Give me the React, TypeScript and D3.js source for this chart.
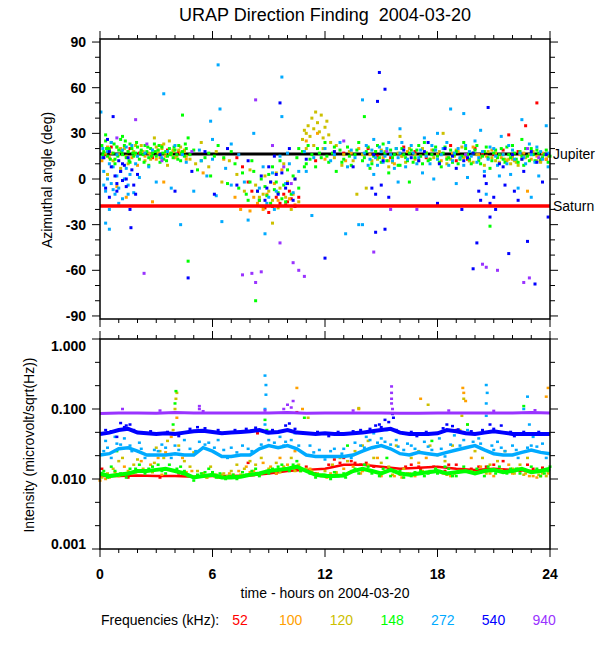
import React from 'react';
import * as d3 from 'd3';

// frequencies and their colours, in drawing order
const frequencies = ['52', '100', '120', '148', '272', '540', '940'];
const colors = ['#ff0000', '#ffa000', '#ccc000', '#00ff00', '#00aaff', '#0000ff', '#9933ff'];

// planet directions (deg)
const jupiterAngle = 16.4;
const saturnAngle = -17.7;

// azimuth readings [hour, deg]
const az52 = [[0.3,16],[1.6,20],[2.8,14],[3.6,19],[4.2,18],[7.3,14],[7.6,8],[7.9,-2],[8.1,-8],[8.5,-14],[9.2,-18],[9.4,-12],[9.6,-16],[9.8,-10],[10.0,-15],[10.2,-13],[10.4,-18],[10.1,-8],[9.0,-22],[11.5,12],[13.0,17],[14.3,20],[15.5,14],[16.8,18],[18.7,22],[19.6,13],[20.4,17],[21.5,19],[21.8,29],[22.7,35],[23.3,50],[22.0,15],[23.5,12],
  [14.8,15],[16.2,21],[17.4,14],[19.0,12],[20.0,20],[21.0,16],[22.3,18],[23.8,13],[8.8,-19],[9.9,-17],[10.6,-12],[0.6,21],[2.1,17]];
const az100 = [[0.1,12],[0.6,17],[1.1,20],[1.7,14],[2.2,18],[2.7,16],[3.1,19],[3.5,15],[3.9,18],[4.3,17],[4.6,13],[2.0,9],[0.9,-5],[1.4,-12],[3.4,-2],[5.5,4],[6.6,13],[7.2,-12],[7.5,-20],[8.0,-21],[8.4,-16],[8.9,-10],[9.3,-3],[9.7,6],[10.1,-13],[10.4,-17],[11.0,25],[11.6,30],[12.5,18],[13.1,12],[13.8,20],[14.4,16],[15.1,14],[15.7,10],[16.4,18],[17.1,15],[17.7,19],[18.2,12],[18.8,17],[19.4,14],[19.9,21],[20.6,15],[21.1,17],[21.7,12],[22.4,16],[23.0,13],[23.6,17],[22.8,-8],[2.8,-15],[0.4,21],[1.9,16],[3.3,22],[4.0,14],
  [0.5,14],[1.5,18],[2.4,15],[3.0,13],[3.7,17],[4.5,19],[14.7,18],[15.4,12],[16.1,15],[16.8,13],[17.4,17],[18.0,16],[18.5,14],[19.1,18],[19.7,12],[20.2,16],[20.9,19],[21.4,14],[22.0,13],[22.6,17],[23.3,15],[23.8,13],[8.2,-12],[8.7,-20],[9.5,-14],[10.3,-10],[12.0,13],[13.4,17]];
const az120 = [[0.2,14],[0.5,19],[0.7,12],[1.0,16],[1.3,20],[1.5,10],[1.8,18],[2.0,15],[2.2,22],[2.4,12],[2.6,17],[2.8,19],[3.0,21],[3.2,14],[3.4,23],[3.5,17],[3.7,25],[3.9,19],[4.1,15],[4.3,21],[4.5,18],[4.8,13],[2.9,27],[3.6,9],[1.1,7],[0.4,3],[5.1,10],[5.4,24],[5.8,8],[6.2,18],[6.5,-2],[6.9,12],[7.3,3],[7.7,-8],[8.0,6],[8.3,-4],[8.5,-12],[8.6,-18],[8.8,2],[9.0,-8],[9.2,-14],[9.2,-29],[9.4,4],[9.6,-6],[9.8,10],[10.0,-2],[10.2,-20],[9.5,-19],[10.8,26],[11.0,30],[11.1,35],[11.2,28],[11.3,40],[11.4,33],[11.5,44],[11.6,37],[11.7,31],[11.8,42],[11.9,27],[12.0,34],[12.1,38],[12.2,29],[11.4,22],[11.9,20],[12.3,24],[12.5,14],[12.9,9],[13.3,18],[13.7,-10],[14.2,-6],[14.5,12],[15.0,19],[15.4,8],[15.9,17],[16.3,11],[16.8,16],[17.2,20],[17.6,13],[18.1,18],[18.5,10],[18.9,15],[19.3,21],[19.7,12],[20.1,16],[20.5,9],[20.9,14],[21.3,11],[21.6,13],[21.9,10],[22.1,12],[22.3,9],[22.7,14],[23.1,18],[23.5,11],[23.9,15],[18.3,30],[16.0,28],
  [0.3,17],[0.9,21],[1.4,15],[1.9,22],[2.3,18],[2.7,13],[3.1,17],[3.3,20],[3.8,16],[4.2,19],[4.6,15],[14.0,16],[14.8,13],[15.2,18],[15.6,11],[16.1,15],[16.5,20],[17.0,12],[17.4,17],[17.8,14],[18.2,16],[18.7,13],[19.0,19],[19.5,15],[19.9,11],[20.3,14],[20.7,18],[21.1,12],[21.5,16],[21.8,13],[22.0,15],[22.2,11],[22.5,13],[22.9,16],[23.3,12],[23.7,16],[8.7,-10],[9.1,-2],[9.9,-12],[10.4,0],[10.6,-15],[12.6,22],[13.0,16],[13.5,12],[11.0,20],[10.9,32]];
const az148 = [[0.1,22],[0.2,18],[0.3,25],[0.4,15],[0.5,20],[0.6,24],[0.7,17],[0.8,13],[0.9,21],[1.0,19],[1.1,26],[1.2,16],[1.3,22],[1.4,14],[1.5,18],[1.6,23],[1.7,20],[1.8,15],[1.9,17],[2.0,21],[2.1,13],[2.2,19],[2.3,16],[2.4,22],[2.5,18],[2.6,14],[2.7,20],[2.8,17],[2.9,23],[3.0,15],[3.1,19],[3.2,16],[3.3,21],[3.4,13],[3.5,18],[3.6,15],[3.7,20],[3.8,17],[3.9,14],[4.0,19],[4.1,16],[4.2,22],[4.3,12],[4.4,18],[4.5,15],[4.6,20],[4.7,27],[0.3,29],[1.2,28],[2.6,9],[3.2,11],[0.8,10],[1.6,11],[5.2,6],[5.6,14],[5.9,2],[6.3,22],[6.8,-3],[7.2,10],[7.4,-6],[7.6,4],[7.8,-10],[8.0,-2],[7.9,-14],[8.1,12],[8.2,5],[8.4,-8],[8.5,-14],[8.6,0],[8.8,-5],[8.9,-11],[9.0,3],[9.1,-16],[9.2,8],[9.4,-2],[9.5,-9],[9.6,12],[9.8,-4],[9.9,-15],[10.0,6],[10.2,-10],[10.3,2],[10.5,14],[10.6,-6],[10.8,18],[11.0,10],[11.1,22],[11.3,16],[11.5,8],[11.6,20],[11.8,14],[12.0,24],[12.2,11],[12.4,17],[12.6,5],[12.8,19],[13.0,13],[13.2,21],[13.4,9],[13.6,16],[13.8,24],[14.0,12],[14.2,18],[14.4,7],[14.6,15],[14.8,22],[15.0,11],[15.2,17],[15.4,4],[15.6,14],[15.8,20],[16.0,9],[16.2,16],[16.4,12],[16.6,19],[16.8,14],[17.0,22],[17.2,10],[17.4,17],[17.6,13],[17.8,19],[18.0,15],[18.2,8],[18.4,21],[18.6,14],[18.8,11],[19.0,18],[19.2,13],[19.4,24],[19.6,16],[19.8,10],[20.0,19],[20.2,12],[20.4,15],[20.6,21],[20.8,7],[21.0,17],[21.2,14],[21.4,20],[21.6,11],[21.8,16],[22.0,22],[22.2,13],[22.4,18],[22.6,9],[22.8,15],[23.0,20],[23.2,12],[23.4,17],[23.6,14],[23.8,19],[24.0,15],[22.5,26],[16.5,-2],[20.8,-31],[4.7,-54],[8.3,-80],[14.1,41],[4.4,42],
  [0.15,16],[0.35,20],[0.55,13],[0.75,23],[0.95,15],[1.15,18],[1.35,25],[1.55,12],[1.75,17],[1.95,24],[2.15,17],[2.35,11],[2.55,21],[2.75,15],[2.95,18],[3.15,22],[3.35,17],[3.55,12],[3.75,16],[3.95,21],[4.15,13],[4.35,17],[4.55,23],[4.8,16],[5.0,19],[5.4,12],[5.8,17],[6.1,15],[6.6,14],[7.0,18],[14.1,14],[14.3,21],[14.5,10],[14.7,18],[14.9,14],[15.1,23],[15.3,12],[15.5,19],[15.7,16],[15.9,9],[16.1,20],[16.3,14],[16.5,17],[16.7,11],[16.9,19],[17.1,15],[17.3,24],[17.5,12],[17.7,16],[17.9,21],[18.1,11],[18.3,17],[18.5,13],[18.7,19],[18.9,16],[19.1,10],[19.3,15],[19.5,20],[19.7,13],[19.9,17],[20.1,22],[20.3,10],[20.5,18],[20.7,14],[20.9,12],[21.1,19],[21.3,16],[21.5,13],[21.7,21],[21.9,14],[22.1,17],[22.3,11],[22.5,15],[22.7,20],[22.9,12],[23.1,16],[23.3,19],[23.5,13],[23.7,16],[23.9,11],[10.6,20],[10.9,8],[11.2,13],[11.7,17],[12.1,15],[12.5,21],[12.9,11],[13.3,15],[13.7,19],[8.7,-18],[9.3,-7],[9.7,-13]];
const az272 = [[0.05,44],[0.2,5],[0.3,-8],[0.4,0],[0.5,10],[0.6,-3],[0.7,8],[0.8,-10],[0.9,2],[1.0,-6],[1.1,5],[1.2,-13],[1.3,0],[1.4,7],[1.5,-4],[1.6,3],[1.8,-9],[1.9,10],[2.1,1],[0.3,-29],[0.5,-33],[0.5,-20],[0.15,20],[0.6,24],[1.2,19],[1.7,22],[2.4,17],[3.4,56],[2.6,8],[3.0,-2],[3.3,14],[3.8,-6],[4.3,-30],[4.0,22],[4.6,11],[5.0,-8],[5.3,19],[5.7,2],[6.0,13],[6.3,75],[6.4,46],[5.9,38],[6.5,-28],[6.2,-11],[6.7,7],[7.0,-4],[7.4,16],[7.9,-27],[8.2,30],[8.5,-6],[8.8,-36],[8.7,8],[9.0,-12],[9.2,4],[9.4,-8],[9.6,15],[9.7,67],[9.7,41],[9.9,-3],[10.1,10],[10.3,-9],[10.6,5],[11.3,-24],[10.9,18],[11.4,14],[12.0,20],[12.5,16],[13.1,-36],[13.4,19],[13.8,-30],[14.0,-30],[14.0,52],[14.2,22],[14.4,13],[14.6,26],[14.8,9],[15.0,18],[15.2,15],[15.4,24],[15.6,12],[15.8,20],[16.0,17],[16.3,8],[16.6,22],[17.0,14],[17.3,27],[17.6,10],[17.9,19],[18.2,16],[18.5,24],[18.7,46],[18.8,12],[19.1,20],[19.4,43],[19.4,9],[19.7,18],[20.0,25],[20.2,14],[20.5,5],[20.8,21],[21.1,15],[21.4,28],[21.7,10],[22.0,19],[22.3,-6],[22.5,39],[22.6,14],[22.9,23],[23.2,11],[23.5,18],[23.8,35],[23.9,8],[17.8,0],[19.0,-3],[20.6,-10],[21.3,2],[23.0,-12],[16.0,33],[18.0,30],[20.3,32],
  [14.1,17],[14.3,9],[14.5,19],[14.7,14],[14.9,21],[15.1,11],[15.3,20],[15.5,16],[15.7,7],[15.9,14],[16.1,24],[16.4,13],[16.7,17],[16.9,10],[17.1,19],[17.4,15],[17.7,22],[18.0,13],[18.3,20],[18.6,9],[18.9,17],[19.2,14],[19.5,22],[19.8,15],[20.1,11],[20.4,18],[20.7,13],[21.0,20],[21.2,9],[21.5,16],[21.8,22],[22.1,13],[22.4,17],[22.7,10],[23.0,16],[23.3,21],[23.6,13],[23.9,17],[14.6,3],[15.9,-2],[17.2,4],[19.6,1],[21.9,3],[23.4,2],[12.3,12],[12.8,24],[13.2,8],[13.6,14],[11.0,5],[10.0,17],[8.9,-16],[9.3,-20],[0.1,14],[0.4,18],[0.9,16],[1.4,21],[2.0,15],[2.8,19],[3.6,18],[4.4,16],[1.0,-16],[0.7,-7],[1.5,-10],[0.2,-4],[5.4,12],[6.0,26],[7.0,23],[7.7,-2]];
const az540 = [[0.7,41],[0.4,26],[0.6,8],[0.8,2],[0.9,-3],[1.0,12],[1.1,5],[1.2,-1],[1.3,9],[1.4,0],[1.5,14],[1.6,-20],[1.65,-32],[1.7,6],[1.8,-4],[2.0,3],[0.2,14],[0.5,18],[3.2,16],[4.0,-8],[4.7,-65],[4.9,5],[5.6,18],[6.1,-10],[6.8,20],[7.3,-4],[7.9,12],[8.4,-8],[8.6,2],[8.8,-14],[9.0,8],[9.1,-2],[9.3,15],[9.5,-10],[9.6,50],[9.7,4],[9.9,-6],[10.1,20],[10.4,0],[11.0,13],[12.0,-52],[12.5,18],[13.5,8],[14.5,-6],[14.7,-35],[14.7,-10],[14.8,51],[14.9,70],[15.0,-4],[15.2,59],[15.2,-33],[15.4,-12],[16.2,19],[17.0,12],[18.0,-16],[18.4,20],[19.0,7],[19.6,14],[19.9,-59],[20.1,-42],[20.2,-8],[20.5,2],[20.7,47],[20.8,-16],[20.8,-25],[21.0,-12],[21.3,10],[21.6,-4],[21.8,-49],[22.0,16],[22.3,-14],[22.6,5],[22.8,-41],[23.0,18],[23.2,-69],[23.6,-2],[23.9,-25],[17.5,24],[19.3,-20],
  [0.3,-6],[0.5,-12],[0.9,-8],[1.2,10],[1.4,-5],[1.9,-10],[15.1,12],[16.6,14],[17.3,18],[18.1,10],[18.8,15],[19.4,12],[19.9,17],[20.3,-14],[20.6,-3],[21.1,-20],[21.5,8],[22.1,-8],[22.5,13],[23.3,11],[23.8,16],[14.6,16],[8.9,-6],[9.4,3],[10.3,-14],[10.0,-3]];
const az940 = [[1.9,39],[0.9,27],[2.5,23],[3.3,12],[2.35,-62],[4.9,18],[7.6,-63],[8.1,-62],[8.3,-68],[8.3,52],[8.6,-61],[9.2,22],[9.6,-42],[10.3,-55],[10.6,-60],[10.9,-64],[9.8,8],[10.2,-3],[14.6,-48],[15.5,-20],[15.3,18],[16.9,-20],[20.4,-56],[20.6,-58],[21.2,-60],[22.6,-68],[22.9,-65],[22.8,20],[23.4,14],[19.5,16],[13.0,25]];

// intensity baselines [hour, microvolt/sqrt(Hz)]
const base52 = [[0,0.011],[1,0.011],[2,0.0112],[3,0.011],[4,0.011],[5,0.0108],[6,0.011],[7,0.011],[8,0.0112],[9,0.012],[10,0.013],[11,0.0135],[12,0.014],[13,0.016],[14,0.016],[15,0.015],[16,0.014],[17,0.0145],[18,0.015],[19,0.014],[20,0.0135],[21,0.014],[22,0.0135],[23,0.013],[24,0.0135]];
const base148 = [[0,0.012],[0.5,0.011],[1,0.0115],[1.5,0.012],[2,0.013],[2.5,0.013],[3,0.0135],[3.5,0.014],[4,0.013],[4.5,0.012],[5,0.0105],[5.5,0.011],[6,0.0115],[6.5,0.0105],[7,0.0105],[7.5,0.0108],[8,0.0115],[8.5,0.012],[9,0.013],[9.5,0.0135],[10,0.014],[10.5,0.015],[11,0.013],[11.5,0.0115],[12,0.011],[12.5,0.011],[13,0.0112],[13.5,0.013],[14,0.014],[14.5,0.013],[15,0.012],[15.5,0.0135],[16,0.012],[16.5,0.0115],[17,0.012],[17.5,0.0125],[18,0.013],[18.5,0.012],[19,0.0125],[19.5,0.013],[20,0.012],[20.5,0.013],[21,0.0135],[21.5,0.0125],[22,0.013],[22.5,0.014],[23,0.0125],[23.5,0.013],[24,0.014]];
const base272 = [[0,0.022],[0.5,0.023],[1,0.027],[1.5,0.028],[2,0.025],[2.5,0.022],[3,0.022],[3.5,0.022],[4,0.023],[4.5,0.022],[5,0.022],[5.5,0.028],[6,0.025],[6.5,0.021],[7,0.021],[7.5,0.022],[8,0.022],[8.5,0.027],[9,0.03],[9.5,0.028],[10,0.03],[10.5,0.027],[11,0.022],[11.5,0.021],[12,0.021],[12.5,0.021],[13,0.021],[13.5,0.022],[14,0.025],[14.5,0.028],[15,0.03],[15.5,0.027],[16,0.023],[16.5,0.022],[17,0.024],[17.5,0.023],[18,0.022],[18.5,0.024],[19,0.026],[19.5,0.028],[20,0.03],[20.5,0.026],[21,0.023],[21.5,0.022],[22,0.022],[22.5,0.024],[23,0.026],[23.5,0.024],[24,0.023]];
const base540 = [[0,0.044],[0.5,0.046],[1,0.05],[1.5,0.052],[2,0.046],[2.5,0.045],[3,0.044],[3.5,0.045],[4,0.044],[4.5,0.046],[5,0.048],[5.5,0.049],[6,0.047],[6.5,0.045],[7,0.046],[7.5,0.047],[8,0.048],[8.5,0.05],[9,0.046],[9.5,0.047],[10,0.05],[10.5,0.046],[11,0.045],[11.5,0.044],[12,0.045],[12.5,0.044],[13,0.044],[13.5,0.045],[14,0.046],[14.5,0.048],[15,0.05],[15.5,0.052],[16,0.046],[16.5,0.044],[17,0.044],[17.5,0.044],[18,0.045],[18.5,0.05],[19,0.048],[19.5,0.045],[20,0.044],[20.5,0.046],[21,0.048],[21.5,0.046],[22,0.044],[22.5,0.044],[23,0.044],[23.5,0.044],[24,0.044]];
const base940 = [[0,0.086],[1,0.088],[2,0.088],[3,0.087],[4,0.089],[5,0.088],[6,0.088],[7,0.088],[8,0.088],[9,0.088],[10,0.089],[11,0.087],[12,0.088],[13,0.088],[14,0.088],[15,0.088],[16,0.087],[17,0.087],[18,0.088],[19,0.088],[20,0.088],[21,0.088],[22,0.088],[23,0.089],[24,0.088]];

// intensity scatter [hour, microvolt/sqrt(Hz)]
const int52 = [[0.1,0.014],[2.3,0.013],[4.2,0.012],[7.9,0.017],[9.4,0.012],[10.5,0.09],[11.5,0.012],[12.2,0.016],[12.8,0.017],[13.4,0.018],[13.9,0.016],[14.6,0.015],[15.4,0.014],[16.3,0.015],[17.0,0.015],[17.8,0.015],[18.4,0.013],[19.0,0.016],[19.8,0.014],[20.6,0.015],[21.5,0.018],[22.4,0.013],[23.1,0.014],[15.0,0.012],[17.1,0.014],[8.4,0.045],[19.0,0.05],
  [1.5,0.0105],[3.2,0.0105],[5.5,0.0112],[6.5,0.0105],[10.5,0.014],[11.0,0.015],[12.5,0.019],[13.0,0.02],[13.6,0.017],[14.2,0.017],[16.6,0.016],[18.6,0.016],[20.2,0.015],[21.0,0.016],[22.8,0.016],[23.6,0.0145]];
const int100 = [[0.0,0.0095],[0.3,0.01],[0.8,0.0125],[1.3,0.015],[1.7,0.012],[2.2,0.018],[2.7,0.016],[3.1,0.02],[3.5,0.024],[3.8,0.04],[4.1,0.075],[4.4,0.02],[4.9,0.013],[5.3,0.011],[5.7,0.0105],[6.1,0.011],[6.5,0.0115],[6.9,0.012],[7.4,0.013],[7.8,0.015],[8.2,0.013],[8.7,0.017],[9.1,0.015],[9.6,0.02],[10.0,0.016],[10.4,0.025],[10.5,0.2],[10.8,0.1],[11.2,0.014],[11.6,0.0115],[12.1,0.0105],[12.6,0.012],[13.0,0.014],[13.5,0.015],[13.9,0.012],[14.3,0.016],[14.8,0.02],[15.2,0.013],[15.7,0.011],[16.1,0.0105],[16.5,0.012],[17.0,0.017],[17.1,0.14],[17.4,0.02],[17.9,0.014],[18.3,0.012],[18.7,0.011],[19.1,0.013],[19.35,0.2],[19.4,0.17],[19.5,0.13],[19.8,0.02],[20.3,0.015],[20.8,0.012],[21.3,0.013],[21.8,0.016],[22.3,0.014],[22.7,0.012],[23.1,0.011],[23.5,0.011],[23.9,0.012],[23.9,0.2],[23.8,0.15],[13.8,0.1],
  [0.5,0.0105],[1.0,0.011],[1.9,0.0125],[2.5,0.013],[3.3,0.0115],[4.6,0.0125],[5.5,0.012],[6.3,0.0105],[7.1,0.0115],[8.0,0.0125],[9.4,0.012],[10.7,0.013],[11.8,0.011],[12.3,0.012],[13.3,0.0125],[14.0,0.013],[15.0,0.011],[16.0,0.0115],[16.8,0.011],[17.6,0.013],[18.5,0.0115],[20.0,0.0125],[21.0,0.011],[22.0,0.012],[22.9,0.011],[23.3,0.0105]];
const int120 = [[0.1,0.0105],[0.4,0.012],[0.7,0.014],[1.0,0.018],[1.2,0.02],[1.5,0.013],[1.8,0.016],[2.0,0.019],[2.3,0.014],[2.6,0.022],[2.9,0.017],[3.2,0.025],[3.4,0.02],[3.6,0.035],[3.9,0.05],[4.0,0.1],[4.05,0.14],[4.1,0.17],[4.2,0.03],[4.5,0.018],[4.8,0.015],[5.2,0.013],[5.5,0.012],[5.9,0.015],[6.2,0.0115],[6.6,0.012],[7.0,0.013],[7.3,0.016],[7.7,0.014],[8.0,0.018],[8.3,0.016],[8.6,0.02],[9.0,0.014],[9.4,0.017],[9.8,0.015],[10.2,0.02],[10.6,0.016],[11.0,0.014],[11.3,0.013],[11.6,0.012],[12.0,0.013],[12.4,0.016],[12.8,0.02],[13.2,0.018],[13.6,0.025],[14.0,0.03],[14.3,0.035],[14.6,0.02],[15.0,0.017],[15.4,0.015],[15.8,0.03],[16.2,0.014],[16.6,0.02],[17.0,0.025],[17.3,0.045],[17.5,0.115],[17.6,0.03],[18.0,0.022],[18.4,0.018],[18.8,0.03],[19.2,0.05],[19.3,0.08],[19.4,0.14],[19.6,0.06],[20.0,0.025],[20.4,0.02],[20.8,0.016],[21.2,0.018],[21.6,0.025],[22.0,0.014],[22.4,0.016],[22.8,0.02],[23.2,0.013],[23.6,0.012],[23.9,0.013],[5.0,0.024],[3.0,0.028],[10.0,0.05],[11.1,0.075],[13.8,0.103],
  [0.6,0.011],[1.3,0.012],[2.0,0.013],[2.8,0.0125],[3.5,0.014],[4.4,0.012],[5.7,0.0105],[6.4,0.0105],[6.8,0.011],[7.5,0.0115],[8.1,0.012],[8.9,0.013],[9.6,0.0125],[10.4,0.013],[11.8,0.0115],[12.2,0.011],[12.6,0.0125],[13.4,0.013],[14.4,0.013],[14.9,0.012],[15.6,0.0115],[16.4,0.012],[17.2,0.013],[18.1,0.013],[18.9,0.012],[19.8,0.013],[20.6,0.012],[21.4,0.0135],[22.1,0.012],[22.6,0.0115],[23.4,0.0115],[23.8,0.011]];
const int148 = [[0.2,0.013],[0.6,0.015],[1.1,0.012],[1.6,0.014],[2.1,0.016],[2.4,0.012],[2.8,0.015],[3.3,0.013],[3.7,0.016],[3.9,0.06],[4.0,0.12],[4.05,0.18],[4.3,0.015],[4.7,0.011],[5.0,0.0095],[5.4,0.012],[5.8,0.014],[6.2,0.0105],[6.7,0.01],[7.1,0.0115],[7.6,0.0125],[8.1,0.013],[8.5,0.011],[8.8,0.07],[8.9,0.05],[9.2,0.014],[9.7,0.016],[10.1,0.013],[10.5,0.018],[10.9,0.075],[11.5,0.0105],[11.9,0.0115],[12.3,0.01],[12.7,0.011],[13.1,0.0105],[13.6,0.014],[14.1,0.016],[14.5,0.012],[14.9,0.011],[15.3,0.02],[15.7,0.013],[16.2,0.0105],[16.6,0.011],[17.1,0.013],[17.5,0.012],[17.9,0.014],[18.4,0.015],[18.8,0.011],[19.2,0.013],[19.6,0.06],[19.7,0.045],[20.1,0.014],[20.5,0.011],[20.9,0.013],[21.3,0.015],[21.7,0.012],[22.2,0.014],[22.6,0.11],[22.9,0.045],[23.3,0.014],[23.7,0.012],[24.0,0.015],[0.9,0.025],[13.2,0.03],[17.7,0.035],
  [0.4,0.0105],[0.8,0.013],[1.4,0.0105],[1.9,0.014],[2.6,0.014],[3.1,0.016],[3.5,0.012],[4.1,0.014],[4.5,0.013],[5.2,0.0115],[5.6,0.0125],[6.0,0.0125],[6.4,0.012],[6.9,0.011],[7.3,0.01],[7.8,0.0115],[8.3,0.014],[9.0,0.012],[9.5,0.015],[10.3,0.016],[10.7,0.013],[11.2,0.012],[12.0,0.0115],[12.5,0.0125],[13.0,0.012],[13.8,0.012],[14.3,0.015],[15.1,0.014],[15.5,0.011],[16.0,0.013],[16.8,0.0125],[17.3,0.011],[18.0,0.012],[18.6,0.014],[19.0,0.011],[19.4,0.015],[20.3,0.0125],[20.7,0.015],[21.1,0.012],[21.9,0.014],[22.4,0.012],[23.0,0.015],[23.5,0.011],[23.9,0.013]];
const int272 = [[0.3,0.035],[0.8,0.04],[1.3,0.038],[2.1,0.033],[3.3,0.031],[4.5,0.036],[5.8,0.033],[6.3,0.036],[7.6,0.03],[8.8,0.06],[8.8,0.1],[8.85,0.16],[8.85,0.22],[8.8,0.3],[8.9,0.045],[9.6,0.04],[10.4,0.045],[11.2,0.03],[12.5,0.027],[13.6,0.033],[14.2,0.04],[14.6,0.045],[15.0,0.038],[15.3,0.05],[15.8,0.036],[16.4,0.032],[17.3,0.034],[18.1,0.038],[18.9,0.042],[19.6,0.05],[20.0,0.045],[20.6,0.08],[20.6,0.12],[20.65,0.17],[20.6,0.22],[21.2,0.034],[22.0,0.03],[22.6,0.1],[22.8,0.15],[22.9,0.06],[23.1,0.04],[23.6,0.032],
  [0.2,0.025],[0.6,0.02],[1.1,0.031],[1.7,0.025],[2.4,0.02],[3.1,0.025],[3.8,0.02],[4.2,0.026],[5.1,0.025],[5.6,0.031],[6.1,0.028],[6.8,0.02],[7.3,0.024],[8.1,0.025],[8.6,0.031],[9.3,0.033],[9.9,0.034],[10.6,0.03],[11.4,0.024],[12.0,0.019],[12.9,0.023],[13.4,0.02],[14.1,0.028],[14.8,0.033],[15.5,0.031],[16.2,0.026],[16.8,0.027],[17.7,0.026],[18.4,0.021],[19.2,0.03],[19.9,0.034],[20.3,0.032],[21.0,0.026],[21.6,0.025],[22.3,0.02],[23.0,0.03],[23.8,0.02],
  [0.4,0.028],[0.9,0.032],[1.6,0.03],[2.2,0.027],[2.9,0.026],[3.5,0.028],[4.0,0.03],[4.8,0.027],[5.3,0.034],[6.6,0.026],[7.0,0.028],[7.9,0.027],[9.0,0.036],[9.8,0.03],[10.2,0.036],[11.7,0.026],[12.3,0.025],[13.0,0.027],[13.9,0.03],[14.4,0.036],[15.2,0.034],[15.9,0.029],[16.6,0.03],[17.5,0.029],[18.2,0.027],[18.7,0.031],[19.4,0.036],[20.2,0.038],[20.9,0.03],[21.4,0.028],[22.2,0.026],[22.8,0.028],[23.3,0.029]];
const int540 = [[1.1,0.063],[1.4,0.058],[1.6,0.06],[9.9,0.058],[10.1,0.062],[15.2,0.07],[15.4,0.065],[15.6,0.085],[15.65,0.075],[14.7,0.058],[14.9,0.06],[18.5,0.06],[18.8,0.057],[20.8,0.06],[21.4,0.058],[5.2,0.055],[13.5,0.048],
  [0.3,0.05],[0.6,0.048],[1.3,0.055],[1.8,0.05],[2.7,0.048],[3.6,0.047],[4.8,0.052],[5.6,0.053],[6.3,0.05],[7.2,0.05],[7.8,0.052],[8.3,0.054],[9.2,0.05],[10.4,0.052],[11.6,0.047],[12.7,0.047],[13.9,0.05],[14.4,0.052],[15.0,0.055],[15.8,0.05],[16.6,0.047],[17.4,0.047],[18.3,0.053],[19.1,0.051],[19.8,0.048],[20.4,0.05],[21.0,0.052],[21.9,0.047],[22.6,0.047],[23.4,0.047],[0.9,0.04],[4.2,0.041],[12.2,0.041],[16.9,0.041],[22.1,0.041]];
const int940 = [[3.2,0.095],[5.3,0.11],[5.3,0.1],[9.8,0.1],[10.0,0.115],[10.3,0.13],[10.2,0.105],[8.8,0.095],[15.55,0.21],[15.55,0.17],[15.55,0.14],[15.55,0.12],[15.6,0.1],[13.5,0.095],[18.6,0.095],[21.0,0.094],[23.2,0.096],[5.5,0.093],[1.2,0.1]];

// axis labels
const hourTicks = [0, 6, 12, 18, 24];
const angleTicks = [-90, -60, -30, 0, 30, 60, 90];
const intensityTicks = [0.001, 0.01, 0.1, 1];
const intensityLabels = ['0.001', '0.010', '0.100', '1.000'];

const azimuth = [az52, az100, az120, az148, az272, az540, az940];
const baselines: Record<string, number[][]> = { '52': base52, '148': base148, '272': base272, '540': base540, '940': base940 };
const baseWidths: Record<string, number> = { '52': 2.5, '148': 4, '272': 3.5, '540': 4, '940': 3 };
const intensity = [int52, int100, int120, int148, int272, int540, int940];

const font = '"Liberation Sans", Arial, Helvetica, sans-serif';

const x = d3.scaleLinear().domain([0, 24]).range([100, 550]);
const yAz = d3.scaleLinear().domain([-92, 92]).range([319, 39]);
const yInt = d3.scaleLog().domain([0.001, 1]).range([549, 339]);

const App: React.FC = () => {
  const [x0, x1] = x.range();
  const hourMinor = d3.range(0, 25);
  const angleMinor = d3.range(-90, 91, 10);
  const intMinor = d3.range(0, 10).map((k) => Math.pow(10, -3 + k / 3));

  const frame = (top: number, bottom: number) => (
    <rect x={x0} y={top} width={x1 - x0} height={bottom - top} fill="none" stroke="#000" strokeWidth={1.5} />
  );

  const xTicks = (top: number, bottom: number) =>
    hourMinor.map((h) => {
      const len = h % 6 === 0 ? 8 : 4;
      return (
        <g key={`xt${top}-${h}`} stroke="#000" strokeWidth={1}>
          <line x1={x(h)} x2={x(h)} y1={top} y2={top - len} />
          <line x1={x(h)} x2={x(h)} y1={bottom} y2={bottom + len} />
        </g>
      );
    });

  const yTicks = (vals: number[], scale: (v: number) => number, isMajor: (v: number) => boolean, key: string) =>
    vals.map((v, i) => {
      const len = isMajor(v) ? 8 : 5;
      const yy = scale(v);
      return (
        <g key={`${key}${i}`} stroke="#000" strokeWidth={1}>
          <line x1={x0} x2={x0 - len} y1={yy} y2={yy} />
          <line x1={x1} x2={x1 + len} y1={yy} y2={yy} />
        </g>
      );
    });

  const line = d3
    .line<number[]>()
    .x((d) => x(d[0]))
    .y((d) => yInt(d[1]));

  return (
    <svg width={600} height={650} style={{ position: 'absolute', left: 0, top: 0, background: '#fff' }} fontFamily={font}>
      <rect width={600} height={650} fill="#fff" />
      <text x={325} y={21} textAnchor="middle" fontSize={18} xmlSpace="preserve">
        {'URAP Direction Finding  2004-03-20'}
      </text>

      {/* azimuth panel */}
      <line x1={x0} x2={x1} y1={yAz(jupiterAngle)} y2={yAz(jupiterAngle)} stroke="#000" strokeWidth={3} />
      {azimuth.map((pts, s) => (
        <g key={`az${s}`} fill={colors[s]}>
          {pts.map((d, i) => (
            <rect key={i} x={x(d[0]) - 1.5} y={yAz(d[1]) - 1.5} width={3} height={3} />
          ))}
        </g>
      ))}
      <line x1={x0} x2={x1} y1={yAz(saturnAngle)} y2={yAz(saturnAngle)} stroke="#ff0000" strokeWidth={3.5} />
      {frame(39, 319)}
      {xTicks(39, 319)}
      {yTicks(angleMinor, yAz, (v) => v % 30 === 0, 'ya')}
      {angleTicks.map((v) => (
        <text key={`al${v}`} x={86} y={yAz(v)} dy="0.35em" textAnchor="end" fontSize={14} fontWeight="bold">
          {v}
        </text>
      ))}
      <text x={553} y={yAz(jupiterAngle)} dy="0.35em" fontSize={14}>
        Jupiter
      </text>
      <text x={553} y={yAz(saturnAngle)} dy="0.35em" fontSize={14}>
        Saturn
      </text>
      <text transform="translate(52,180) rotate(-90)" textAnchor="middle" fontSize={14}>
        Azimuthal angle (deg)
      </text>

      {/* intensity panel */}
      {frequencies.map((f, s) => (
        <g key={`in${s}`}>
          {baselines[f] && (
            <path d={line(baselines[f]) || ''} fill="none" stroke={colors[s]} strokeWidth={baseWidths[f]} />
          )}
          <g fill={colors[s]}>
            {intensity[s].map((d, i) => (
              <rect key={i} x={x(d[0]) - 1.5} y={yInt(d[1]) - 1.25} width={3} height={2.5} />
            ))}
          </g>
        </g>
      ))}
      {frame(339, 549)}
      {xTicks(339, 549)}
      {yTicks(intMinor, yInt, (v) => Math.abs(Math.log10(v) - Math.round(Math.log10(v))) < 1e-6, 'yi')}
      {intensityTicks.map((v, i) => (
        <text
          key={`il${i}`}
          x={86}
          y={Math.min(544, Math.max(346, yInt(v)))}
          dy="0.35em"
          textAnchor="end"
          fontSize={14}
          fontWeight="bold"
        >
          {intensityLabels[i]}
        </text>
      ))}
      <text transform="translate(34,445) rotate(-90)" textAnchor="middle" fontSize={14}>
        Intensity (microvolt/sqrt(Hz))
      </text>

      {hourTicks.map((h) => (
        <text key={`hl${h}`} x={x(h)} y={579} textAnchor="middle" fontSize={14} fontWeight="bold">
          {h}
        </text>
      ))}
      <text x={325} y={598} textAnchor="middle" fontSize={14}>
        time - hours on 2004-03-20
      </text>

      <text x={101} y={625} fontSize={14}>
        Frequencies (kHz):
      </text>
      {frequencies.map((f, s) => (
        <text key={`lg${f}`} x={240 + s * 50.7} y={625} textAnchor="middle" fontSize={14} fill={colors[s]}>
          {f}
        </text>
      ))}
    </svg>
  );
};

export default App;
